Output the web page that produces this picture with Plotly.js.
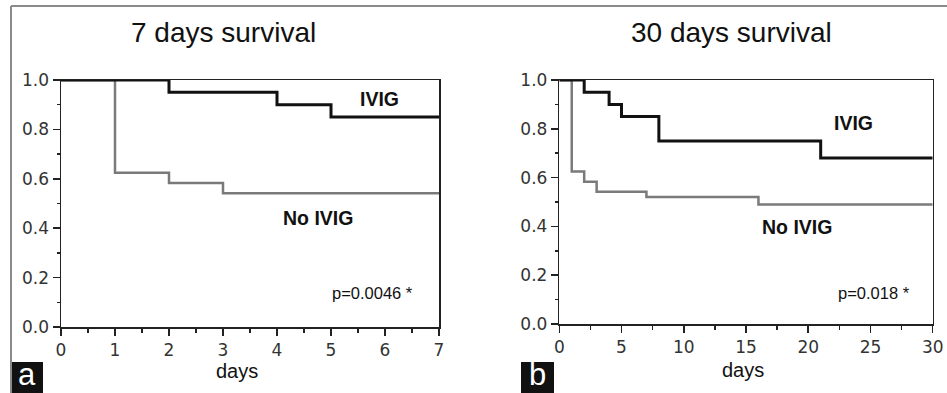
<!DOCTYPE html>
<html>
<head>
<meta charset="utf-8">
<script src="https://cdn.plot.ly/plotly-3.0.1.min.js"></script>
<style>html,body{margin:0;padding:0;background:#fff;}#chart{width:947px;height:393px;}</style>
</head>
<body>
<div id="chart"></div>
<script>
// Kaplan-Meier survival data (step functions)
const ivig7Days = [0, 2, 4, 5, 7];
const ivig7Surv = [1, 0.95, 0.90, 0.85, 0.85];
const noIvig7Days = [0, 1, 2, 3, 7];
const noIvig7Surv = [1, 0.625, 0.583, 0.542, 0.542];
const ivig30Days = [0, 2, 4, 5, 8, 21, 30];
const ivig30Surv = [1, 0.95, 0.90, 0.85, 0.75, 0.68, 0.68];
const noIvig30Days = [0, 1, 2, 3, 7, 16, 30];
const noIvig30Surv = [1, 0.625, 0.583, 0.542, 0.52, 0.49, 0.49];
const panelTitles = ["7 days survival", "30 days survival"];
const seriesNames = ["IVIG", "No IVIG"];
const pValues = ["p=0.0046 *", "p=0.018 *"];
const panelLetters = ["a", "b"];

const W = 947, H = 393;
const px = v => v / W;
const py = v => 1 - v / H;

const gray = '#7a7a7a';
const traces = [
  {x: noIvig7Days, y: noIvig7Surv, xaxis: 'x', yaxis: 'y', mode: 'lines', line: {shape: 'hv', color: gray, width: 2.5}, cliponaxis: false, name: seriesNames[1]},
  {x: ivig7Days, y: ivig7Surv, xaxis: 'x', yaxis: 'y', mode: 'lines', line: {shape: 'hv', color: '#111', width: 3}, cliponaxis: false, name: seriesNames[0]},
  {x: noIvig30Days, y: noIvig30Surv, xaxis: 'x2', yaxis: 'y2', mode: 'lines', line: {shape: 'hv', color: gray, width: 2.5}, cliponaxis: false, name: seriesNames[1]},
  {x: ivig30Days, y: ivig30Surv, xaxis: 'x2', yaxis: 'y2', mode: 'lines', line: {shape: 'hv', color: '#111', width: 3}, cliponaxis: false, name: seriesNames[0]}
];

const tickFont = {family: 'DejaVu Sans, Verdana, sans-serif', size: 17, color: '#333'};
function yAxis(domain, anchor) {
  return {
    domain: domain, anchor: anchor, range: [0, 1], dtick: 0.2, tickformat: '.1f',
    showgrid: false, zeroline: false, showline: true, linecolor: '#222', linewidth: 1.5,
    mirror: true, ticks: 'outside', ticklen: 7, tickwidth: 1.5, tickcolor: '#222',
    minor: {dtick: 0.1, ticks: 'outside', ticklen: 3, tickwidth: 1.5, tickcolor: '#222'},
    tickfont: tickFont, ticklabelstandoff: 0, fixedrange: true
  };
}
function xAxis(domain, anchor, max, dt) {
  return {
    domain: domain, anchor: anchor, range: [0, max], dtick: dt,
    showgrid: false, zeroline: false, showline: true, linecolor: '#222', linewidth: 1.5,
    mirror: true, ticks: 'outside', ticklen: 7, tickwidth: 1.5, tickcolor: '#222',
    minor: {dtick: dt / 2, ticks: 'outside', ticklen: 4, tickwidth: 1.5, tickcolor: '#222'},
    tickfont: tickFont, ticklabelstandoff: 0, fixedrange: true
  };
}

const annFont = {family: 'Liberation Sans, Arial, sans-serif', color: '#111'};
function ann(text, xref, yref, x, y, size, color) {
  return {text: text, xref: xref, yref: yref, x: x, y: y, xanchor: 'center', yanchor: 'middle',
          showarrow: false, font: Object.assign({}, annFont, {size: size, color: color || '#111'})};
}
const annotations = [
  ann(panelTitles[0], 'paper', 'paper', px(223), py(32), 28),
  ann(panelTitles[1], 'paper', 'paper', px(731), py(32), 28),
  ann('days', 'paper', 'paper', px(237), py(371), 20),
  ann('days', 'paper', 'paper', px(743), py(370), 20),
  ann('<b>' + seriesNames[0] + '</b>', 'x', 'y', 5.89, 0.923, 19.5),
  ann('<b>' + seriesNames[1] + '</b>', 'x', 'y', 4.76, 0.441, 19.5),
  ann(pValues[0], 'x', 'y', 5.76, 0.138, 16.5),
  ann('<b>' + seriesNames[0] + '</b>', 'x2', 'y2', 23.6, 0.824, 19.5),
  ann('<b>' + seriesNames[1] + '</b>', 'x2', 'y2', 19.1, 0.398, 19.5),
  ann(pValues[1], 'x2', 'y2', 25.3, 0.127, 16.5),
  ann(panelLetters[0], 'paper', 'paper', px(27), py(374), 31, '#fff'),
  ann(panelLetters[1], 'paper', 'paper', px(537.5), py(374), 31, '#fff')
];

const shapes = [
  {type: 'line', xref: 'paper', yref: 'paper', x0: px(11), x1: 1, y0: py(6), y1: py(6), line: {color: '#8a8a8a', width: 2}},
  {type: 'line', xref: 'paper', yref: 'paper', x0: px(11), x1: px(11), y0: py(6), y1: 0, line: {color: '#8a8a8a', width: 2}},
  {type: 'rect', xref: 'paper', yref: 'paper', x0: px(11), x1: px(43), y0: py(362), y1: 0, fillcolor: '#111', line: {width: 0}, layer: 'below'},
  {type: 'rect', xref: 'paper', yref: 'paper', x0: px(521), x1: px(554), y0: py(362), y1: 0, fillcolor: '#111', line: {width: 0}, layer: 'below'}
];

const layout = {
  width: W, height: H, margin: {l: 0, r: 0, t: 0, b: 0},
  paper_bgcolor: '#fff', plot_bgcolor: 'rgba(0,0,0,0)', showlegend: false,
  xaxis: xAxis([px(61), px(439)], 'y', 7, 1),
  yaxis: yAxis([py(327), py(80)], 'x'),
  xaxis2: xAxis([px(559.3), px(932.7)], 'y2', 30, 5),
  yaxis2: yAxis([py(324), py(80)], 'x2'),
  annotations: annotations, shapes: shapes
};

Plotly.newPlot('chart', traces, layout, {displayModeBar: false, staticPlot: true});
</script>
</body>
</html>
